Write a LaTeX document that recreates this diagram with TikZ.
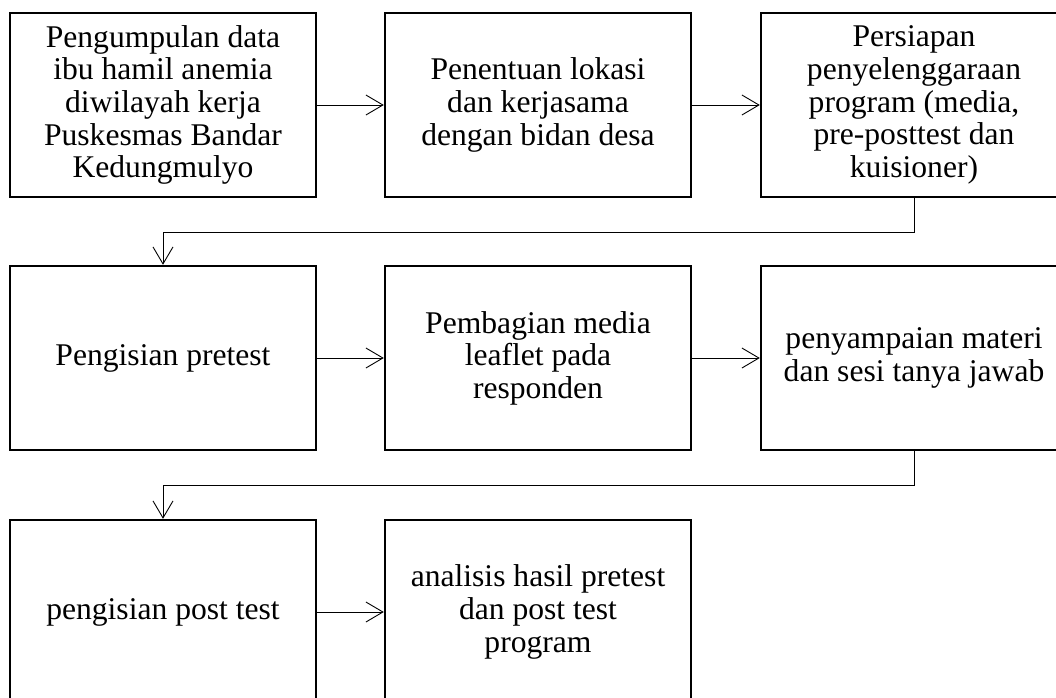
\documentclass[tikz,border=0pt]{standalone}
\usepackage{fontspec}
\setmainfont{Liberation Serif}
\usetikzlibrary{arrows.meta}

\tikzset{
  box/.style={draw, line width=2.4pt, minimum width=306pt, minimum height=184pt,
    inner sep=0pt, align=center, font=\fontsize{31.6}{32.6}\selectfont},
  flow/.style={line width=0.9pt,
    -{Straight Barb[length=17pt,width=20pt,line width=0.9pt]}}
}

\begin{document}
\begin{tikzpicture}[x=1pt,y=1pt]
\useasboundingbox (0,0) rectangle (1056,-697);
\clip (0,0) rectangle (1056,-697);

% first row
\node[box] (data) at (163,-105) {Pengumpulan data\\ibu hamil anemia\\diwilayah kerja\\Puskesmas Bandar\\Kedungmulyo};
\node[box] (lokasi) at (538,-105) {Penentuan lokasi\\dan kerjasama\\dengan bidan desa};
\node[box] (persiapan) at (914,-105) {Persiapan\\penyelenggaraan\\program (media,\\pre-posttest dan\\kuisioner)};

% second row
\node[box] (pretest) at (163,-358) {Pengisian pretest};
\node[box] (leaflet) at (538,-358) {Pembagian media\\leaflet pada\\responden};
\node[box] (materi) at (914,-358) {penyampaian materi\\dan sesi tanya jawab};

% third row
\node[box] (posttest) at (163,-612) {pengisian post test};
\node[box] (analisis) at (538,-612) {analisis hasil pretest\\dan post test\\program};

\draw[flow] (data) -- (lokasi);
\draw[flow] (lokasi) -- (persiapan);
\draw[flow] (persiapan.south) -- ++(0,-34) -| (pretest.north);

\draw[flow] (pretest) -- (leaflet);
\draw[flow] (leaflet) -- (materi);
\draw[flow] (materi.south) -- ++(0,-34) -| (posttest.north);

\draw[flow] (posttest) -- (analisis);
\end{tikzpicture}
\end{document}
